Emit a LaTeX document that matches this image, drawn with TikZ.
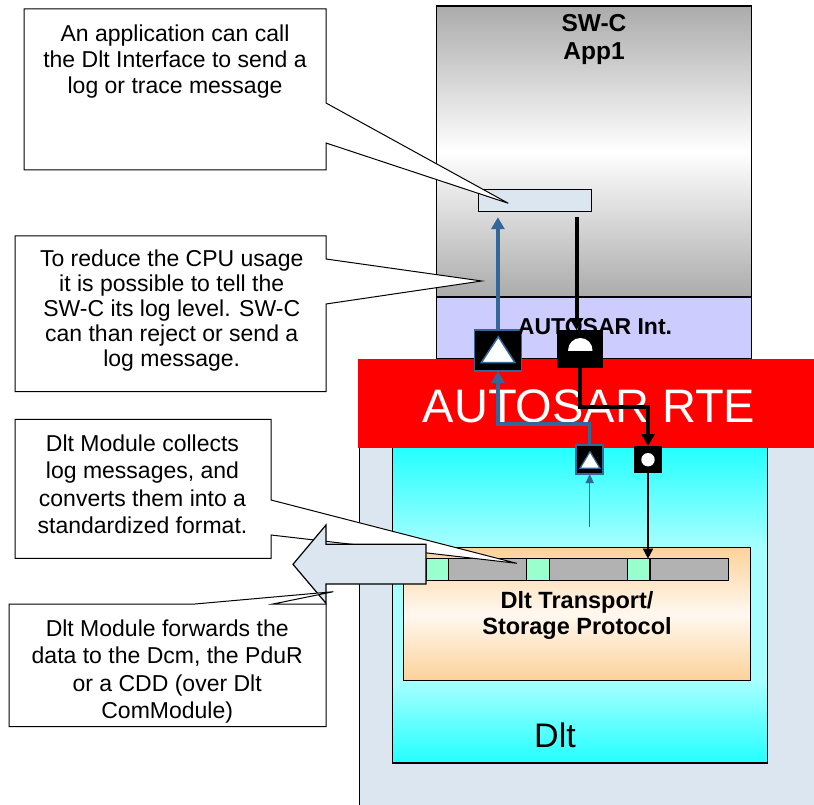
\documentclass[tikz,border=0pt]{standalone}
\usepackage{fontspec}
\setmainfont{Liberation Sans}
\usetikzlibrary{arrows.meta,calc}
\definecolor{lightbg}{HTML}{DCE6F0}
\definecolor{swgray}{HTML}{ABABAB}
\definecolor{intlav}{HTML}{CCCCFF}
\definecolor{cyanA}{HTML}{22FFFF}
\definecolor{cyanB}{HTML}{A8FFFF}
\definecolor{orangeA}{HTML}{FCD29A}
\definecolor{orangeB}{HTML}{FFF8F0}
\definecolor{msggreen}{HTML}{99FFCC}
\definecolor{msggray}{HTML}{B2B2B2}
\definecolor{portblue}{HTML}{336699}
\pgfdeclareverticalshading{cyanshade}{100bp}{color(0bp)=(cyanA); color(25bp)=(cyanA); color(38bp)=(cyanB); color(59bp)=(cyanB); color(75bp)=(cyanA); color(100bp)=(cyanA)}
\begin{document}
\begin{tikzpicture}[x=1pt,y=-1pt,
  box/.style={draw=black, line width=1.2pt, anchor=north west, inner sep=0pt, outer sep=0pt},
  seg/.style={draw=black, line width=1.2pt, anchor=north west, minimum height=22pt, inner sep=0pt, outer sep=0pt},
  callout/.style={draw=black, fill=white, line width=1pt},
  ctext/.style={align=center, inner sep=0pt},
  portsq/.style={fill=black, inner sep=0pt, outer sep=0pt},
  blueline/.style={draw=portblue, line width=3.3pt},
  blackline/.style={draw=black, line width=4pt},
  bigtip/.style={-{Triangle[width=13pt,length=12pt]}}
]
\path[use as bounding box] (0,0) rectangle (814,805);

% Dlt outer and inner boxes
\node[box, fill=lightbg, minimum width=460pt, minimum height=362pt] (dltouter) at (359.3,446) {};
\node[box, shade, shading=cyanshade, minimum width=375.4pt, minimum height=317pt] (dltinner) at (392.3,446) {};

% SW-C
\node[box, line width=1.5pt, top color=swgray, bottom color=swgray, middle color=white, minimum width=315pt, minimum height=291pt] (swc) at (436.7,6) {};
\node[font=\fontsize{24.5}{28.3}\selectfont\bfseries, align=center, inner sep=0pt] (swclabel) at (594,39.6) {SW-C\\App1};
\node[box, line width=1.5pt, fill=intlav, minimum width=315pt, minimum height=62pt] (autint) at (436.7,297) {};

% RTE
\node[fill=red, anchor=north west, minimum width=458pt, minimum height=89pt, inner sep=0pt, outer sep=0pt] (rte) at (358,359) {};
\node[text=white, font=\fontsize{47}{50}\selectfont, anchor=base, inner sep=0pt] (rtelabel) at (589,422) {AUTOSAR RTE};

\node[font=\fontsize{34}{36}\selectfont, anchor=base, inner sep=0pt] (dltlabel) at (555,747.7) {Dlt};

% Protocol
\node[box, top color=orangeA, bottom color=orangeA, middle color=orangeB, minimum width=347.4pt, minimum height=133.4pt] (proto) at (403.3,547.3) {};
\node[font=\fontsize{23.5}{26.7}\selectfont\bfseries, align=center, inner sep=0pt] (protolabel) at (577,615.5) {Dlt Transport/\\Storage Protocol};

\node[seg, fill=msggreen, minimum width=22pt] (g1) at (426.3,558.7) {};
\node[seg, fill=msggray, minimum width=78.4pt] (s1) at (448.3,558.7) {};
\node[seg, fill=msggreen, minimum width=22.6pt] (g2) at (526.7,558.7) {};
\node[seg, fill=msggray, minimum width=78.4pt] (s2) at (549.3,558.7) {};
\node[seg, fill=msggreen, minimum width=22.3pt] (g3) at (627.7,558.7) {};
\node[seg, fill=msggray, minimum width=78.3pt] (s3) at (650,558.7) {};

% Interface
\node[draw=black, line width=1pt, fill=lightbg, minimum width=112.7pt, minimum height=22.4pt, inner sep=0pt] (iface) at (535.3,200.5) {};

% Ports
\node[portsq, draw=portblue, line width=1.5pt, minimum width=47pt, minimum height=41pt] (portA) at (497.9,350.5) {};
\node[portsq, minimum width=46pt, minimum height=38pt] (portB) at (580.3,349.2) {};
\node[portsq, draw=portblue, line width=1.5pt, minimum width=27pt, minimum height=29pt] (portC) at (589.7,459.5) {};
\node[portsq, minimum width=27.4pt, minimum height=27.3pt] (portD) at (648,459.7) {};

\draw[draw=portblue, fill=white, line width=1.5pt] ($(portA)+(-16.5,12)$) -- ($(portA)+(17,12)$) -- ($(portA)+(0.4,-13.8)$) -- cycle;
\draw[draw=portblue, fill=white, line width=1.2pt] ($(portC)+(-9.7,8.8)$) -- ($(portC)+(10.3,8.8)$) -- ($(portC)+(0.3,-7.8)$) -- cycle;
\begin{scope}
  \clip ($(portB)+(-14,1)$) rectangle ($(portB)+(14,-14)$);
  \fill[white] ($(portB)+(0,1)$) circle[radius=12.2pt];
\end{scope}
\fill[white] (portD) circle[radius=6.7pt];

% Connectors
\coordinate (aend) at ($(portA.north |- iface.south)+(0,5)$);
\draw[blueline, bigtip] (portA.north) -- (aend);
\coordinate (bstart) at ($(iface.south)+(41.2,5)$);
\draw[blackline, bigtip] (bstart) -- (bstart |- portB.north);
\draw[blackline, bigtip] (portB.south) -- ++(0,38.4) -| (portD.north);
\draw[blueline, bigtip] (portC.north) -- ++(0,-21) -| (portA.south);
\coordinate (thinstart) at ($(portC.south)+(0,53)$);
\draw[portblue, line width=1.5pt, -{Triangle[width=8pt,length=9pt]}] (thinstart) -- (portC.south);
\draw[black, line width=1.5pt, -{Triangle[width=10pt,length=10pt]}] (portD.south) -- (portD.south |- s3.north);

\node[font=\fontsize{23}{26}\selectfont\bfseries, anchor=base, inner sep=0pt] (intlabel) at (595,334) {AUTOSAR Int.};

% Callout 3, big arrow, callout 4
\draw[callout] (15,419.3) -- (271,419.3) -- (271,500) -- (516.7,563.3) -- (271,535) -- (271,558.3) -- (15,558.3) -- cycle;
\node[ctext, font=\fontsize{23}{27.4}\selectfont] (t3) at (142.5,484.4) {Dlt Module collects\\log messages, and\\converts them into a\\standardized format.};

\draw[fill=lightbg, line width=1.2pt] (293,564.3) -- (326,525) -- (326,544.3) -- (426,544.3) -- (426,584) -- (326,584) -- (326,603.3) -- cycle;

\draw[callout] (9,604) -- (195,604) -- (333.3,591.7) -- (273,604) -- (326,604) -- (326,726.7) -- (9,726.7) -- cycle;
\node[ctext, font=\fontsize{23}{27.2}\selectfont] (t4) at (167.2,671.5) {Dlt Module forwards the\\data to the Dcm, the PduR\\or a CDD (over Dlt\\ComModule)};

% Callout 1 and 2
\draw[callout] (24,9) -- (326,9) -- (326,103) -- (508.3,203.3) -- (326,143) -- (326,170) -- (24,170) -- cycle;
\node[ctext, font=\fontsize{23}{25.8}\selectfont] (t1) at (175,61.5) {An application can call\\the Dlt Interface to send a\\log or trace message};

\draw[callout] (15,236) -- (326,236) -- (326,259) -- (481.7,281) -- (326,304) -- (326,391.7) -- (15,391.7) -- cycle;
\node[ctext, font=\fontsize{23}{25}\selectfont] (t2) at (171.7,310.7) {To reduce the CPU usage\\it is possible to tell the\\SW-C its log level. SW-C\\can than reject or send a\\log message.};
\end{tikzpicture}
\end{document}
